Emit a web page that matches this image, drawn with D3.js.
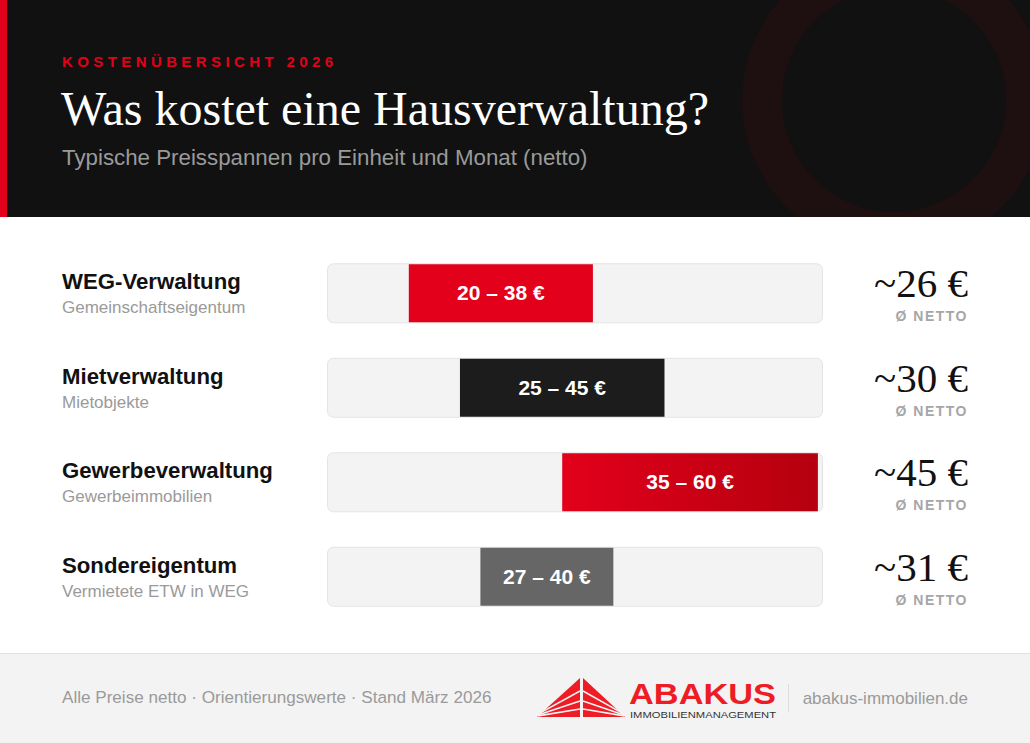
<!DOCTYPE html>
<html>
<head>
<meta charset="utf-8">
<script src="https://cdn.jsdelivr.net/npm/d3@7"></script>
<style>
  html, body { margin: 0; padding: 0; background: #ffffff; }
  svg { display: block; }
  .sans { font-family: "Liberation Sans", Arial, sans-serif; }
  .serif { font-family: "Liberation Serif", "Times New Roman", serif; }
</style>
</head>
<body>
<svg id="chart"></svg>
<script>
// data
const categories = ['WEG-Verwaltung', 'Mietverwaltung', 'Gewerbeverwaltung', 'Sondereigentum'];
const subtitles = ['Gemeinschaftseigentum', 'Mietobjekte', 'Gewerbeimmobilien', 'Vermietete ETW in WEG'];
const minValues = [20, 25, 35, 27];
const maxValues = [38, 45, 60, 40];
const avgValues = [26, 30, 45, 31];

const width = 1030, height = 743;
const headerH = 217, footerY = 653;

const svg = d3.select('#chart')
  .attr('width', width)
  .attr('height', height);

const defs = svg.append('defs');
const grad = defs.append('linearGradient').attr('id', 'gewerbeGrad')
  .attr('x1', '0%').attr('x2', '100%').attr('y1', '0%').attr('y2', '0%');
grad.append('stop').attr('offset', '0%').attr('stop-color', '#e3001b');
grad.append('stop').attr('offset', '100%').attr('stop-color', '#b5000f');

defs.append('clipPath').attr('id', 'headerClip')
  .append('rect').attr('width', width).attr('height', headerH);

const barColor = d3.scaleOrdinal()
  .domain(categories)
  .range(['#e2001a', '#1c1c1c', 'url(#gewerbeGrad)', '#666666']);

// header
const header = svg.append('g').attr('clip-path', 'url(#headerClip)');
header.append('rect').attr('width', width).attr('height', headerH).attr('fill', '#111111');
header.append('circle')
  .attr('cx', 894).attr('cy', 100).attr('r', 132)
  .attr('fill', 'none').attr('stroke', '#1e0f11').attr('stroke-width', 40);
header.append('rect').attr('width', 7).attr('height', headerH).attr('fill', '#e2001a');

header.append('text').attr('class', 'sans')
  .attr('x', 62).attr('y', 67)
  .attr('fill', '#e2001a').attr('font-size', 15).attr('font-weight', 700)
  .attr('letter-spacing', 4.4)
  .text('KOSTENÜBERSICHT 2026');
header.append('text').attr('class', 'serif')
  .attr('x', 61).attr('y', 125)
  .attr('fill', '#ffffff').attr('font-size', 48)
  .text('Was kostet eine Hausverwaltung?');
header.append('text').attr('class', 'sans')
  .attr('x', 62).attr('y', 165)
  .attr('fill', '#9a9a9a').attr('font-size', 22.3)
  .text('Typische Preisspannen pro Einheit und Monat (netto)');

// rows
const trackX0 = 327, trackX1 = 823, trackH = 60;

const y = d3.scaleBand()
  .domain(categories)
  .range([246, 624]);

const x = d3.scaleLinear()
  .domain([12, 60.5])
  .range([trackX0, trackX1]);

const rows = svg.append('g')
  .selectAll('g')
  .data(categories)
  .join('g')
    .attr('transform', d => `translate(0, ${y(d) + y.bandwidth() / 2})`);

rows.append('text').attr('class', 'sans')
  .attr('x', 62).attr('y', -4)
  .attr('fill', '#111111').attr('font-size', 22.2).attr('font-weight', 700)
  .text(d => d);

rows.append('text').attr('class', 'sans')
  .attr('x', 62).attr('y', 20)
  .attr('fill', '#9a9a9a').attr('font-size', 17)
  .text((d, i) => subtitles[i]);

rows.append('rect')
  .attr('x', trackX0 + 0.5).attr('y', -trackH / 2 + 0.5)
  .attr('width', trackX1 - trackX0 - 1).attr('height', trackH - 1)
  .attr('rx', 6)
  .attr('fill', '#f3f3f3').attr('stroke', '#e4e4e4');

rows.append('rect')
  .attr('x', (d, i) => x(minValues[i]))
  .attr('y', -trackH / 2 + 1)
  .attr('width', (d, i) => x(maxValues[i]) - x(minValues[i]))
  .attr('height', trackH - 2)
  .attr('fill', d => barColor(d));

rows.append('text').attr('class', 'sans')
  .attr('x', (d, i) => (x(minValues[i]) + x(maxValues[i])) / 2)
  .attr('y', 7)
  .attr('text-anchor', 'middle')
  .attr('fill', '#ffffff').attr('font-size', 21).attr('font-weight', 700)
  .text((d, i) => `${minValues[i]} – ${maxValues[i]} €`);

rows.append('text').attr('class', 'serif')
  .attr('x', 968).attr('y', 4)
  .attr('text-anchor', 'end')
  .attr('fill', '#111111').attr('font-size', 41)
  .text((d, i) => `~${avgValues[i]} €`);

rows.append('text').attr('class', 'sans')
  .attr('x', 968).attr('y', 28)
  .attr('text-anchor', 'end')
  .attr('fill', '#a6a6a6').attr('font-size', 14).attr('font-weight', 700)
  .attr('letter-spacing', 1.5)
  .text('Ø NETTO');

// footer
const footer = svg.append('g');
footer.append('rect').attr('x', 0).attr('y', footerY).attr('width', width).attr('height', height - footerY)
  .attr('fill', '#f3f3f3');
footer.append('line').attr('x1', 0).attr('x2', width).attr('y1', footerY + 0.5).attr('y2', footerY + 0.5)
  .attr('stroke', '#e0e0e0');
footer.append('text').attr('class', 'sans')
  .attr('x', 62).attr('y', 703)
  .attr('fill', '#9a9a9a').attr('font-size', 17.1)
  .text('Alle Preise netto · Orientierungswerte · Stand März 2026');

// logo
const logo = footer.append('g');
logo.append('path').attr('d', 'M537,717 L580,678 L580,717 Z').attr('fill', '#ee1c25');
logo.append('path').attr('d', 'M583,678 L625,717 L583,717 Z').attr('fill', '#ee1c25');
[691, 701, 709].forEach(h => {
  logo.append('line').attr('x1', 580).attr('y1', h).attr('x2', 538).attr('y2', 715 + (h - 700) * 0.1)
    .attr('stroke', '#f3f3f3').attr('stroke-width', 1.6);
  logo.append('line').attr('x1', 583).attr('y1', h).attr('x2', 624).attr('y2', 715 + (h - 700) * 0.1)
    .attr('stroke', '#f3f3f3').attr('stroke-width', 1.6);
});
logo.append('text').attr('class', 'sans')
  .attr('x', 629).attr('y', 704)
  .attr('fill', '#ee1c25').attr('font-size', 30).attr('font-weight', 700)
  .attr('textLength', 147).attr('lengthAdjust', 'spacingAndGlyphs')
  .text('ABAKUS');
logo.append('text').attr('class', 'sans')
  .attr('x', 630).attr('y', 718)
  .attr('fill', '#333333').attr('font-size', 9.5)
  .attr('textLength', 146).attr('lengthAdjust', 'spacingAndGlyphs')
  .text('IMMOBILIENMANAGEMENT');
footer.append('line').attr('x1', 788.5).attr('x2', 788.5).attr('y1', 684).attr('y2', 712)
  .attr('stroke', '#dddddd');
footer.append('text').attr('class', 'sans')
  .attr('x', 968).attr('y', 704)
  .attr('text-anchor', 'end')
  .attr('fill', '#9a9a9a').attr('font-size', 17)
  .text('abakus-immobilien.de');
</script>
</body>
</html>
